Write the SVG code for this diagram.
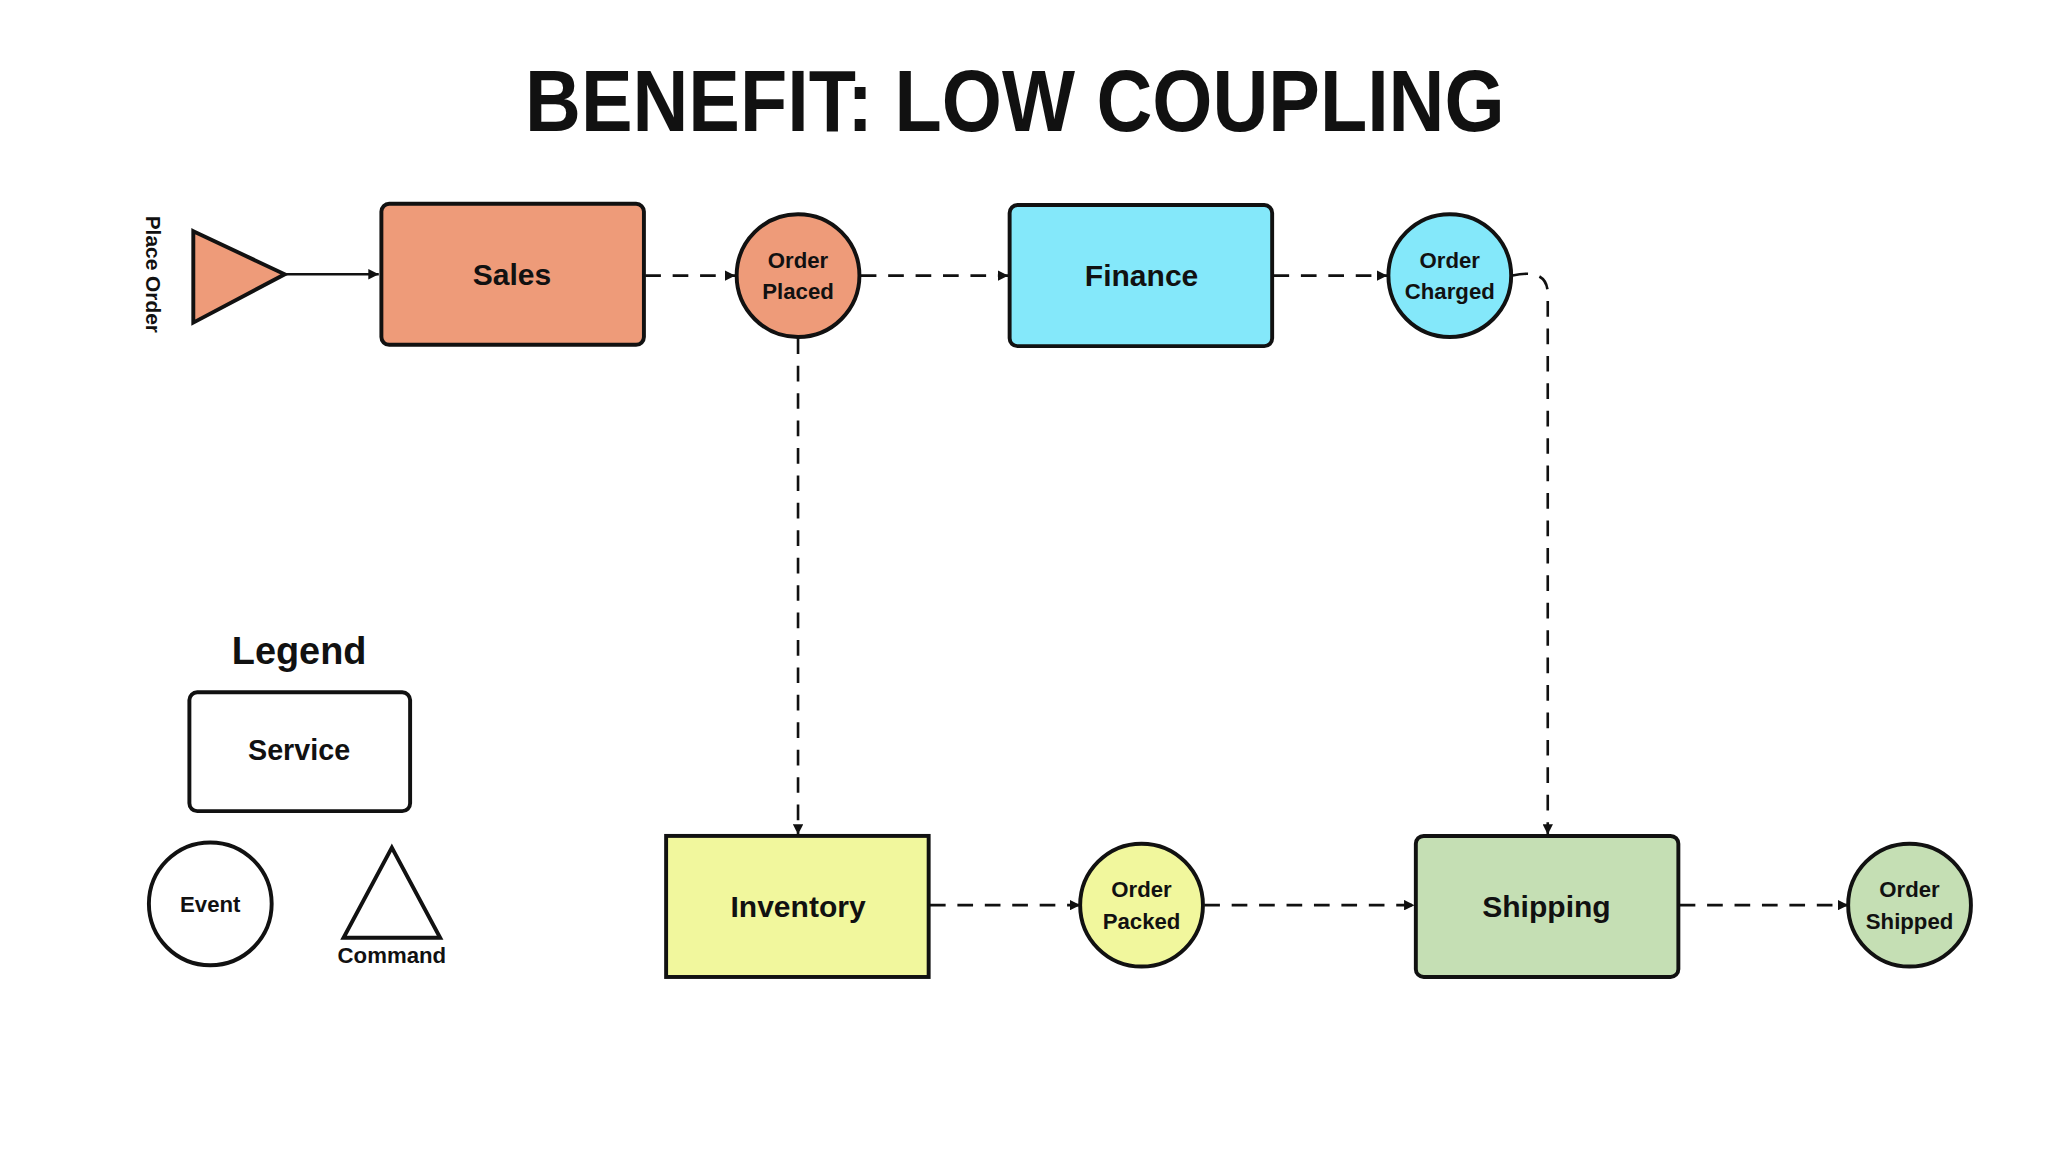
<svg xmlns="http://www.w3.org/2000/svg" width="2048" height="1152" viewBox="0 0 2048 1152">
<defs>
<marker id="ah" viewBox="0 0 10 10" refX="10" refY="5" markerWidth="8" markerHeight="8" markerUnits="userSpaceOnUse" orient="auto"><path d="M0,0L10,5L0,10z" fill="#111"/></marker>
<style>
.n{stroke:#111;stroke-width:3}
.t{font-family:"Liberation Sans",Arial,sans-serif;font-weight:bold;fill:#111;text-anchor:middle}
.c{fill:none;stroke:#111;stroke-width:2;marker-end:url(#ah)}
.d{stroke-dasharray:12 9}
</style>
</defs>
<rect width="2048" height="1152" fill="#fff"/>
<g transform="scale(1.30612)">
<text class="t" x="777" y="100" font-size="66" textLength="750" lengthAdjust="spacingAndGlyphs">BENEFIT: LOW COUPLING</text>
<g id="place-order"><path class="n" d="M148,177L218,210L148,247Z" fill="#EE9B79"/><text class="t" font-size="16" transform="translate(112,210) rotate(90)">Place Order</text></g>
<g id="sales"><rect class="n" x="292" y="156" width="201" height="108" rx="6" fill="#EE9B79"/><text class="t" x="392" y="218" font-size="23">Sales</text></g>
<g id="order-placed"><circle class="n" cx="611" cy="211" r="47" fill="#EE9B79"/><text class="t" x="611" y="205" font-size="17">Order</text><text class="t" x="611" y="229" font-size="17">Placed</text></g>
<g id="finance"><rect class="n" x="773" y="157" width="201" height="108" rx="6" fill="#84E8FA"/><text class="t" x="874" y="219" font-size="23">Finance</text></g>
<g id="order-charged"><circle class="n" cx="1110" cy="211" r="47" fill="#84E8FA"/><text class="t" x="1110" y="205" font-size="17">Order</text><text class="t" x="1110" y="229" font-size="17">Charged</text></g>
<g id="inventory"><rect class="n" x="510" y="640" width="201" height="108" fill="#F1F79D"/><text class="t" x="611" y="702" font-size="23">Inventory</text></g>
<g id="order-packed"><circle class="n" cx="874" cy="693" r="47" fill="#F1F79D"/><text class="t" x="874" y="687" font-size="17">Order</text><text class="t" x="874" y="711" font-size="17">Packed</text></g>
<g id="shipping"><rect class="n" x="1084" y="640" width="201" height="108" rx="6" fill="#C5DFB4"/><text class="t" x="1184" y="702" font-size="23">Shipping</text></g>
<g id="order-shipped"><circle class="n" cx="1462" cy="693" r="47" fill="#C5DFB4"/><text class="t" x="1462" y="687" font-size="17">Order</text><text class="t" x="1462" y="711" font-size="17">Shipped</text></g>
<g id="legend">
<text class="t" x="229" y="508" font-size="29">Legend</text>
<rect class="n" x="145" y="530" width="169" height="91" rx="6" fill="#fff"/><text class="t" x="229" y="582" font-size="22">Service</text>
<circle class="n" cx="161" cy="692" r="47" fill="#fff"/><text class="t" x="161" y="698" font-size="17">Event</text>
<path class="n" d="M300,649L263,718L337,718Z" fill="#fff"/><text class="t" x="300" y="737" font-size="17">Command</text>
</g>
<g id="connectors">
<path class="c" d="M219,210L290,210"/>
<path class="c d" d="M494,211L563,211"/>
<path class="c d" d="M659,211L772,211"/>
<path class="c d" d="M975,211L1062,211"/>
<path class="c d" d="M1158,211Q1185,205 1185,225L1185,639"/>
<path class="c d" d="M611,259L611,639"/>
<path class="c d" d="M712,693L827,693"/>
<path class="c d" d="M922,693L1083,693"/>
<path class="c d" d="M1286,693L1415,693"/>
</g>
</g>
</svg>
